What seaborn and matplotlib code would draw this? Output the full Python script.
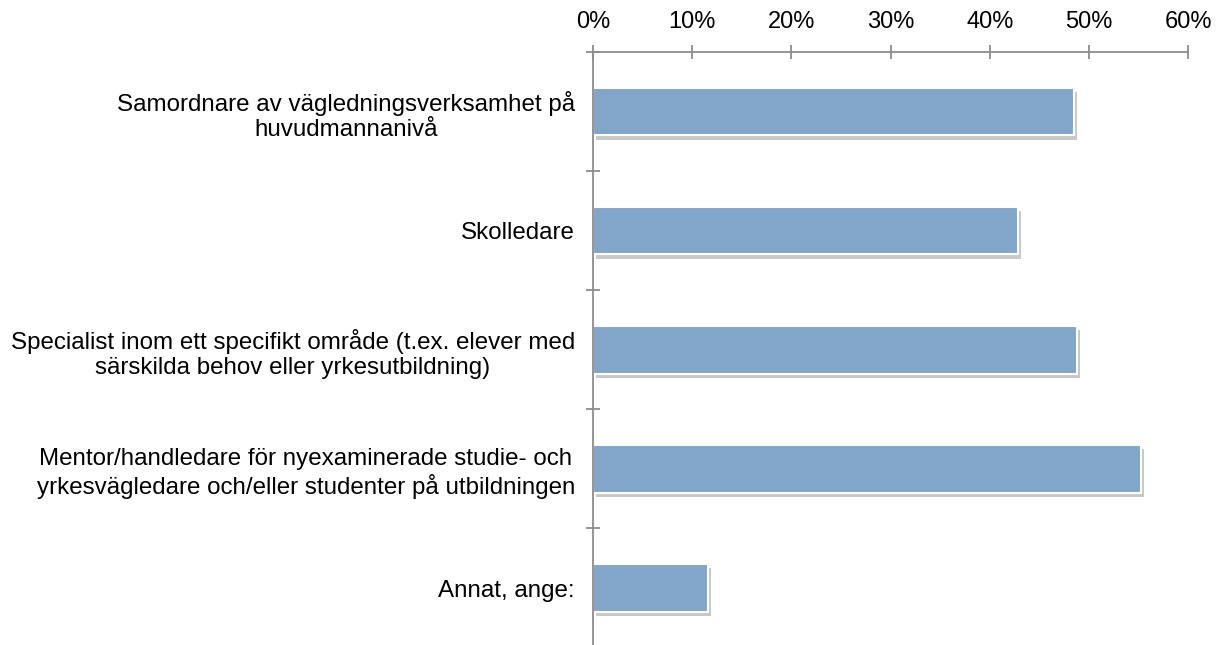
import numpy as np
import pandas as pd
import matplotlib
matplotlib.use("Agg")
import matplotlib.pyplot as plt
import matplotlib.patheffects as pe
from matplotlib.ticker import FuncFormatter
import seaborn as sns

categories = [
    "Samordnare av vägledningsverksamhet på\nhuvudmannanivå",
    "Skolledare",
    "Specialist inom ett specifikt område (t.ex. elever med\nsärskilda behov eller yrkesutbildning)",
    "Mentor/handledare för nyexaminerade studie- och\nyrkesvägledare och/eller studenter på utbildningen",
    "Annat, ange:",
]
shares = [48.5, 42.9, 48.8, 55.3, 11.6]  # procent
xticks = [0, 10, 20, 30, 40, 50, 60]

sns.set_style("white")
plt.rcParams['font.family'] = ['Liberation Sans', 'DejaVu Sans']

df = pd.DataFrame({"kat": categories, "andel": shares})

fig = plt.figure(figsize=(12.22, 6.45), dpi=100)
ax = fig.add_axes([0.4853, -0.004, 0.4869, 0.9234])

sns.barplot(data=df, x="andel", y="kat", orient="h", color="#82a6c9",
            saturation=1, width=0.4, edgecolor="white", linewidth=1.5, ax=ax)

for p in ax.patches:
    p.set_path_effects([pe.SimplePatchShadow(offset=(2, -3), shadow_rgbFace="#777777", alpha=0.4),
                        pe.Normal()])

ax.set_xlim(0, 60)
ax.set_ylim(len(categories) - 0.5, -0.5)
ax.set_xticks(xticks)
ax.xaxis.set_major_formatter(FuncFormatter(lambda v, _: f"{v:.0f}%"))
ax.xaxis.tick_top()
ax.set_xlabel("")
ax.set_ylabel("")

for s in ["right", "bottom"]:
    ax.spines[s].set_visible(False)
for s in ["top", "left"]:
    ax.spines[s].set_color("#8c8c8c")
    ax.spines[s].set_linewidth(1.3)

ax.set_yticks(np.arange(len(categories)))
ax.set_yticklabels(categories, multialignment="center")
ax.set_yticks(np.arange(len(categories) + 1) - 0.5, minor=True)
ax.tick_params(axis="y", which="major", length=0, pad=13, labelsize=17.4, colors="black")
ax.tick_params(axis="y", which="minor", left=True, direction="inout", length=10, width=1.3,
               color="#8c8c8c")
ax.tick_params(axis="x", which="major", direction="inout", length=10, width=1.3,
               color="#8c8c8c", labelcolor="black", labelsize=17, pad=9)

fig.savefig("out.png", dpi=100)
